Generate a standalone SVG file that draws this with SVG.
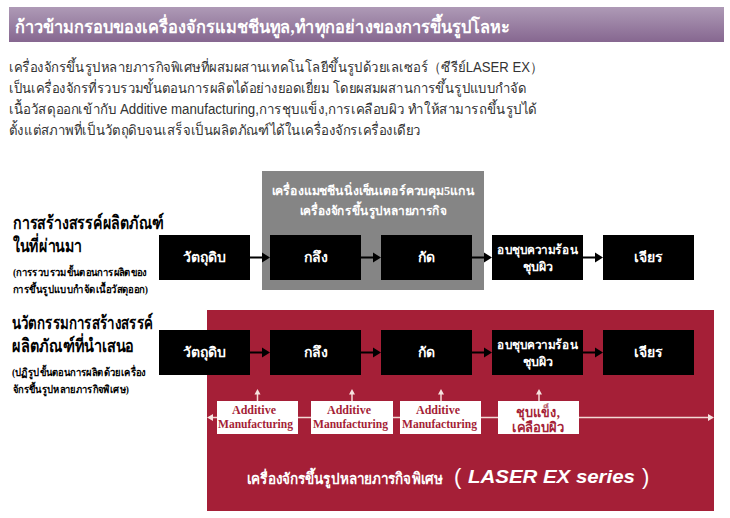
<svg xmlns="http://www.w3.org/2000/svg" width="730" height="518" viewBox="0 0 730 518">
<style>
text{font-family:"Liberation Serif","DejaVu Serif",serif}
.body{font-family:"Liberation Sans","DejaVu Sans",sans-serif;font-size:14px;fill:#333}
.h{font-size:18px;font-weight:bold;fill:#000}
.sub{font-size:10.5px;font-weight:bold;fill:#000}
.bx{fill:#000}
.bt{font-size:14px;font-weight:bold;fill:#fff;text-anchor:middle}
.bs{font-size:12.5px;font-weight:bold;fill:#fff;text-anchor:middle}
.wb{fill:#fff}
.wt{font-size:12px;font-weight:bold;fill:#a51f37;text-anchor:middle}
.ct{font-size:14px;font-weight:bold;fill:#a51f37;text-anchor:middle}
.wl{stroke:#f3d9d5;stroke-width:1.5;fill:none}
.k{stroke:#000;stroke-width:2;fill:none}
.hd{fill:#000}.hw{fill:#f6e3df}
.ls{font-family:"Liberation Sans",Arial,sans-serif;font-size:18px;font-weight:bold;font-style:italic;fill:#fff}
.par{font-family:"Liberation Sans",Arial,sans-serif;font-size:22px;fill:#fff}
</style>
<defs><linearGradient id="g" x1="0" y1="0" x2="0" y2="1"><stop offset="0" stop-color="#ae9ab6"/><stop offset="1" stop-color="#866790"/></linearGradient></defs>
<g id="banner"><rect x="9" y="7" width="715" height="35" fill="url(#g)"/>
<text x="15" y="33" font-size="18" font-weight="bold" fill="#fff" textLength="495" lengthAdjust="spacingAndGlyphs">ก้าวข้ามกรอบของเครื่องจักรแมชชีนทูล,ทำทุกอย่างของการขึ้นรูปโลหะ</text></g>
<g id="intro">
<text class="body" x="9" y="72" textLength="534" lengthAdjust="spacingAndGlyphs">เครื่องจักรขึ้นรูปหลายภารกิจพิเศษที่ผสมผสานเทคโนโลยีขึ้นรูปด้วยเลเซอร์（ซีรีย์LASER EX）</text>
<text class="body" x="9" y="93" textLength="517" lengthAdjust="spacingAndGlyphs">เป็นเครื่องจักรที่รวบรวมขั้นตอนการผลิตได้อย่างยอดเยี่ยม โดยผสมผสานการขึ้นรูปแบบกำจัด</text>
<text class="body" x="9" y="114" textLength="528" lengthAdjust="spacingAndGlyphs">เนื้อวัสดุออกเข้ากับ Additive manufacturing,การชุบแข็ง,การเคลือบผิว ทำให้สามารถขึ้นรูปได้</text>
<text class="body" x="9" y="135" textLength="412" lengthAdjust="spacingAndGlyphs">ตั้งแต่สภาพที่เป็นวัตถุดิบจนเสร็จเป็นผลิตภัณฑ์ได้ในเครื่องจักรเครื่องเดียว</text></g>
<g id="conventional-label">
<text class="h" x="13" y="229" textLength="151" lengthAdjust="spacingAndGlyphs">การสร้างสรรค์ผลิตภัณฑ์</text>
<text class="h" x="13" y="252" textLength="69" lengthAdjust="spacingAndGlyphs">ในที่ผ่านมา</text>
<text class="sub" x="13" y="276" textLength="134" lengthAdjust="spacingAndGlyphs">(การรวบรวมขั้นตอนการผลิตของ</text>
<text class="sub" x="13" y="293" textLength="135" lengthAdjust="spacingAndGlyphs">การขึ้นรูปแบบกำจัดเนื้อวัสดุออก)</text></g>
<g id="innovation-label">
<text class="h" x="12" y="329" textLength="141" lengthAdjust="spacingAndGlyphs">นวัตกรรมการสร้างสรรค์</text>
<text class="h" x="12" y="352" textLength="122" lengthAdjust="spacingAndGlyphs">ผลิตภัณฑ์ที่นำเสนอ</text>
<text class="sub" x="12" y="376" textLength="134" lengthAdjust="spacingAndGlyphs">(ปฏิรูปขั้นตอนการผลิตด้วยเครื่อง</text>
<text class="sub" x="13" y="393" textLength="116" lengthAdjust="spacingAndGlyphs">จักรขึ้นรูปหลายภารกิจพิเศษ)</text></g>
<g id="gray-panel"><rect x="262" y="171" width="222" height="119" fill="#858585"/>
<text x="373" y="195" font-size="12.5" font-weight="bold" fill="#fff" text-anchor="middle" textLength="203" lengthAdjust="spacingAndGlyphs">เครื่องแมชชีนนิ่งเซ็นเตอร์ควบคุม5แกน</text>
<text x="373" y="215" font-size="12.5" font-weight="bold" fill="#fff" text-anchor="middle" textLength="147" lengthAdjust="spacingAndGlyphs">เครื่องจักรขึ้นรูปหลายภารกิจ</text></g>
<g id="red-panel"><rect x="207" y="310" width="507" height="201" fill="#a51f37"/>
<text x="247" y="484" font-size="15" font-weight="bold" fill="#fff" textLength="196" lengthAdjust="spacingAndGlyphs">เครื่องจักรขึ้นรูปหลายภารกิจพิเศษ</text>
<text class="par" x="454" y="484">(</text>
<text class="ls" x="468" y="483" textLength="167" lengthAdjust="spacingAndGlyphs">LASER EX series</text>
<text class="par" x="642" y="484">)</text></g>
<g id="connectors">
<path class="k" d="M250 257.500H264M361 257.500H375M472 257.500H486M583 257.500H597M250 352.500H264M361 352.500H375M472 352.500H486M583 352.500H597"/>
<path class="hd" d="M270 257.500l-8-5v10zM381 257.500l-8-5v10zM492 257.500l-8-5v10zM603 257.500l-8-5v10zM270 352.500l-8-5v10zM381 352.500l-8-5v10zM492 352.500l-8-5v10zM603 352.500l-8-5v10z"/>
<path class="wl" d="M212 417.500H709M257.500 394V401M352 394V401M441 394V401M539 394V401"/>
<path class="hw" d="M207 417.500l6-3.500v7zM714 417.500l-6-3.500v7zM257.500 389l-3 5.500h6zM352 389l-3 5.500h6zM441 389l-3 5.500h6zM539 389l-3 5.500h6z"/>
</g>
<g id="top-1"><rect class="bx" x="159" y="235" width="91" height="45"/><text class="bt" x="204.500" y="262">วัตถุดิบ</text></g>
<g id="top-2"><rect class="bx" x="270" y="235" width="91" height="45"/><text class="bt" x="315.500" y="262">กลึง</text></g>
<g id="top-3"><rect class="bx" x="381" y="235" width="91" height="45"/><text class="bt" x="426.500" y="262">กัด</text></g>
<g id="top-4"><rect class="bx" x="492" y="235" width="91" height="45"/><text class="bs" x="537.500" y="254" textLength="81" lengthAdjust="spacingAndGlyphs">อบชุบความร้อน</text><text class="bs" x="537.500" y="271">ชุบผิว</text></g>
<g id="top-5"><rect class="bx" x="603" y="235" width="91" height="45"/><text class="bt" x="648.500" y="262">เจียร</text></g>
<g id="new-1"><rect class="bx" x="159" y="330" width="91" height="45"/><text class="bt" x="204.500" y="357">วัตถุดิบ</text></g>
<g id="new-2"><rect class="bx" x="270" y="330" width="91" height="45"/><text class="bt" x="315.500" y="357">กลึง</text></g>
<g id="new-3"><rect class="bx" x="381" y="330" width="91" height="45"/><text class="bt" x="426.500" y="357">กัด</text></g>
<g id="new-4"><rect class="bx" x="492" y="330" width="91" height="45"/><text class="bs" x="537.500" y="349" textLength="81" lengthAdjust="spacingAndGlyphs">อบชุบความร้อน</text><text class="bs" x="537.500" y="366">ชุบผิว</text></g>
<g id="new-5"><rect class="bx" x="603" y="330" width="91" height="45"/><text class="bt" x="648.500" y="357">เจียร</text></g>
<g id="am-1"><rect class="wb" x="217" y="401" width="81" height="33"/><text class="wt" x="254" y="414">Additive</text><text class="wt" x="255.500" y="428" textLength="75" lengthAdjust="spacingAndGlyphs">Manufacturing</text></g>
<g id="am-2"><rect class="wb" x="311" y="401" width="82" height="33"/><text class="wt" x="349" y="414">Additive</text><text class="wt" x="350.500" y="428" textLength="75" lengthAdjust="spacingAndGlyphs">Manufacturing</text></g>
<g id="am-3"><rect class="wb" x="400" y="401" width="81" height="33"/><text class="wt" x="438" y="414">Additive</text><text class="wt" x="439.500" y="428" textLength="75" lengthAdjust="spacingAndGlyphs">Manufacturing</text></g>
<g id="coat"><rect class="wb" x="498" y="401" width="81" height="33"/><text class="ct" x="538" y="417" textLength="44" lengthAdjust="spacingAndGlyphs">ชุบแข็ง,</text><text class="ct" x="538" y="432" textLength="52" lengthAdjust="spacingAndGlyphs">เคลือบผิว</text></g>
</svg>
